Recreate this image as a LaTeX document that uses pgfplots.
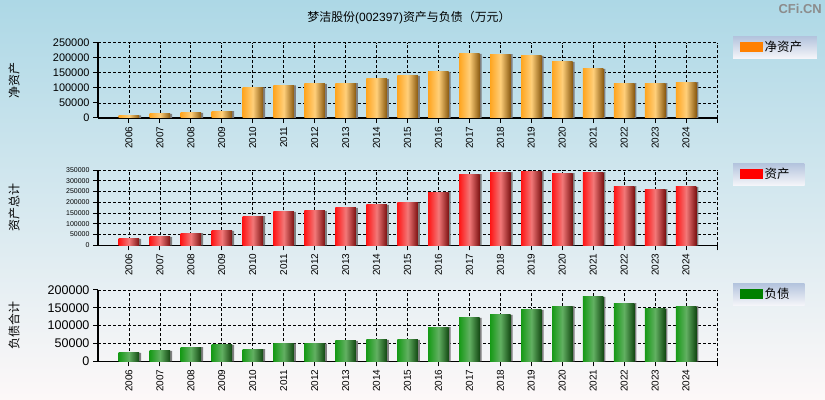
\documentclass[border=0pt]{standalone}
\usepackage{fontspec}
\setmainfont{Liberation Sans}
\newfontfamily\cjk{Noto Sans CJK SC}
\usepackage{pgfplots}
\usepackage{pgfplotstable}
\pgfplotsset{compat=1.18}

\definecolor{bgtop}{HTML}{ADD8E6}
\definecolor{bgbot}{HTML}{FDF8F8}
\definecolor{legtop}{HTML}{B3C3DD}
\definecolor{legbot}{HTML}{F5F5F9}
\definecolor{oL}{HTML}{FFA51F}
\definecolor{oM}{HTML}{FFCF7A}
\definecolor{oR}{HTML}{8A5A10}
\definecolor{rL}{HTML}{FF1515}
\definecolor{rM}{HTML}{F27878}
\definecolor{rR}{HTML}{7C1212}
\definecolor{gL}{HTML}{169A16}
\definecolor{gM}{HTML}{62B062}
\definecolor{gR}{HTML}{124812}
\definecolor{shadow}{HTML}{7F7F7F}

% year index, net assets, total assets, total liabilities (10k CNY)
\pgfplotstableread{
x  eq     as     li
0  9000   29500  23300
1  13300  38700  29000
2  16600  57000  40000
3  23000  66600  45800
4  102000 136000 34500
5  108500 155000 49400
6  113000 159500 49400
7  116000 173500 57000
8  129500 187500 59800
9  139500 198000 59800
10 153000 247700 96200
11 212500 331000 121500
12 212000 340500 130000
13 206000 345000 144000
14 186000 336000 155000
15 163000 340500 180500
16 116000 275500 163500
17 116000 261500 147600
18 119500 271000 155000
}\data

\pgfplotsset{
  panel/.style={
    scale only axis, width=619bp,
    xmin=-1, xmax=19, ymin=0,
    axis lines*=left,
    axis line style={black, line width=1.2bp},
    xtick={0,...,18},
    xticklabels={2006,2007,2008,2009,2010,2011,2012,2013,2014,2015,2016,2017,2018,2019,2020,2021,2022,2023,2024},
    extra x ticks={19}, extra x tick labels={},
    grid=major,
    major grid style={black, line width=0.8bp, dash pattern=on 3bp off 2bp},
    tick align=outside, major tick length=5bp,
    tick style={black, line width=1bp},
    xticklabel style={rotate=90, anchor=east, font=\fontsize{10}{10}\selectfont},
    scaled y ticks=false,
    yticklabel style={/pgf/number format/fixed, /pgf/number format/1000 sep={},
      /pgf/number format/assume math mode=true},
    every axis y label/.style={at={(rel axis cs:0,0.5)}, xshift=-84bp, rotate=90,
      anchor=center, font=\cjk\fontsize{12}{12}\selectfont},
    legend style={draw=none, top color=legtop, bottom color=legbot, anchor=north west,
      font=\cjk\fontsize{12.5}{13}\selectfont, inner xsep=7bp, inner ysep=3bp,
      nodes={inner sep=2bp}},
  },
  shadowbar/.style={ybar, bar width=20.5bp, bar shift=2bp, draw=none, fill=shadow, forget plot},
  mainbar/.style n args={4}{ybar, bar width=20.5bp, bar shift=0bp, draw=none,
    left color=#1, right color=#3, middle color=#2, forget plot,
    x filter/.expression={abs(x-#4)<0.5 ? x : nan}},
  swatch/.style={legend image code/.code={\fill[#1] (0bp,-4.5bp) rectangle (22bp,4.5bp);}},
}

\begin{document}
\begin{tikzpicture}
\shade[top color=bgtop, bottom color=bgbot] (0,0) rectangle (825bp,400bp);

\node[font=\fontsize{12}{12}\selectfont] at (409bp,382.5bp) {{\cjk 梦洁股份}(002397){\cjk 资产与负债（万元）}};
\node[font=\bfseries\fontsize{13}{13}\selectfont, text=black!45, anchor=east, inner sep=0pt] at (822bp,391bp) {CFi.CN};

% 净资产
\begin{axis}[panel, at={(98bp,282bp)}, anchor=south west, height=75.3bp,
  ymax=250000, ytick={0,50000,...,250000},
  yticklabel style={font=\fontsize{11}{11}\selectfont},
  ylabel={净资产},
  legend style={at={(1.0259,1.089)}}]
\addplot[shadowbar] table[x=x, y=eq] {\data};
\pgfplotsinvokeforeach{0,...,18}{
  \addplot[mainbar={oL}{oM}{oR}{#1}] table[x=x, y=eq] {\data};
}
\addlegendimage{swatch=orange}
\addlegendentry{净资产\hspace*{6bp}}
\end{axis}

% 资产总计
\begin{axis}[panel, at={(98bp,154.7bp)}, anchor=south west, height=75.3bp,
  ymax=350000, ytick={0,50000,...,350000},
  yticklabel style={font=\fontsize{7}{7}\selectfont},
  ylabel={资产总计},
  legend style={at={(1.0259,1.093)}}]
\addplot[shadowbar] table[x=x, y=as] {\data};
\pgfplotsinvokeforeach{0,...,18}{
  \addplot[mainbar={rL}{rM}{rR}{#1}] table[x=x, y=as] {\data};
}
\addlegendimage{swatch=red}
\addlegendentry{资产\hspace*{6bp}}
\end{axis}

% 负债合计
\begin{axis}[panel, at={(98bp,38.7bp)}, anchor=south west, height=71.3bp,
  ymax=200000, ytick={0,50000,...,200000},
  yticklabel style={font=\fontsize{12.6}{12.6}\selectfont},
  ylabel={负债合计},
  legend style={at={(1.0259,1.098)}}]
\addplot[shadowbar] table[x=x, y=li] {\data};
\pgfplotsinvokeforeach{0,...,18}{
  \addplot[mainbar={gL}{gM}{gR}{#1}] table[x=x, y=li] {\data};
}
\addlegendimage{swatch=green!50!black}
\addlegendentry{负债\hspace*{6bp}}
\end{axis}

\pgfresetboundingbox
\path[use as bounding box] (0,0) rectangle (825bp,400bp);
\end{tikzpicture}
\end{document}
